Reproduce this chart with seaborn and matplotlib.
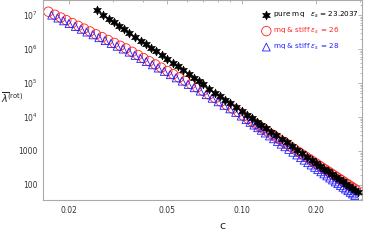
import matplotlib
matplotlib.use("Agg")
import matplotlib.pyplot as plt
import matplotlib.ticker as mticker
import seaborn as sns
import pandas as pd

# pure mq
c_pure = [0.026, 0.0275, 0.029, 0.0305, 0.032, 0.0335, 0.035, 0.037, 0.039, 0.041,
          0.043, 0.045, 0.0475, 0.05, 0.0525, 0.055, 0.058, 0.061, 0.064, 0.067,
          0.07, 0.074, 0.078, 0.082, 0.086, 0.09, 0.095, 0.10, 0.105, 0.11,
          0.115, 0.12, 0.126, 0.132, 0.138, 0.145, 0.152, 0.16, 0.168, 0.176,
          0.184, 0.192, 0.2, 0.208, 0.216, 0.224, 0.232, 0.24, 0.248, 0.256,
          0.264, 0.272, 0.28, 0.288, 0.295]
lam_pure = [1.36e7, 1.02e7, 7.82e6, 6.06e6, 4.75e6, 3.77e6, 3.02e6, 2.28e6, 1.75e6, 1.36e6,
            1.07e6, 8.47e5, 6.44e5, 4.97e5, 3.88e5, 3.07e5, 2.35e5, 1.82e5, 1.43e5, 1.13e5,
            9.06e4, 6.84e4, 5.24e4, 4.07e4, 3.20e4, 2.54e4, 1.93e4, 1.49e4, 1.16e4, 9.20e3,
            7.34e3, 5.92e3, 4.62e3, 3.66e3, 2.92e3, 2.27e3, 1.79e3, 1.38e3, 1.08e3, 853,
            681, 549, 447, 366, 303, 252, 211, 177, 150, 128,
            110, 94.2, 81.3, 70.6, 62.5]

# mq & stiff, eps_s = 26
c_26 = [0.0165, 0.0175, 0.0185, 0.0195, 0.0206, 0.0218, 0.023, 0.0243, 0.0257, 0.0272,
        0.0288, 0.0305, 0.0322, 0.034, 0.036, 0.038, 0.040, 0.0423, 0.0447, 0.0472,
        0.050, 0.0528, 0.0558, 0.059, 0.0624, 0.066, 0.0698, 0.0738, 0.078, 0.0825,
        0.087, 0.092, 0.097, 0.102, 0.106, 0.11, 0.114, 0.118, 0.122, 0.127,
        0.132, 0.137, 0.142, 0.147, 0.152, 0.158, 0.164, 0.17, 0.176, 0.182,
        0.188, 0.194, 0.2, 0.206, 0.212, 0.218, 0.224, 0.23, 0.236, 0.242,
        0.248, 0.254, 0.26, 0.266, 0.272, 0.278, 0.284, 0.29]
lam_26 = [1.25e7, 1.02e7, 8.43e6, 7.03e6, 5.81e6, 4.78e6, 3.97e6, 3.28e6, 2.71e6, 2.23e6,
          1.84e6, 1.51e6, 1.25e6, 1.04e6, 8.26e5, 6.67e5, 5.44e5, 4.36e5, 3.51e5, 2.83e5,
          2.25e5, 1.81e5, 1.45e5, 1.16e5, 9.28e4, 7.43e4, 5.86e4, 4.59e4, 3.61e4, 2.83e4,
          2.24e4, 1.76e4, 1.40e4, 1.07e4, 8.90e3, 7.46e3, 6.29e3, 5.34e3, 4.55e3, 3.76e3,
          3.12e3, 2.62e3, 2.21e3, 1.87e3, 1.60e3, 1.33e3, 1.11e3, 935, 792, 675,
          578, 498, 431, 374, 326, 285, 251, 221, 195, 173,
          154, 138, 123, 110, 99.2, 89.5, 80.8, 73.1]

# mq & stiff, eps_s = 28
c_28 = [0.0170, 0.0180, 0.0190, 0.0200, 0.0212, 0.0224, 0.0236, 0.0250, 0.0264, 0.0280,
        0.0296, 0.0313, 0.0331, 0.0350, 0.0370, 0.0390, 0.0411, 0.0435, 0.0459, 0.0486,
        0.0514, 0.0543, 0.0574, 0.0607, 0.0642, 0.0679, 0.0718, 0.0759, 0.0802, 0.0847,
        0.0895, 0.0945, 0.0995, 0.104, 0.108, 0.112, 0.116, 0.120, 0.1245, 0.1295,
        0.1345, 0.1395, 0.1445, 0.1495, 0.155, 0.161, 0.167, 0.173, 0.179, 0.185,
        0.191, 0.197, 0.203, 0.209, 0.215, 0.221, 0.227, 0.233, 0.239, 0.245,
        0.251, 0.257, 0.263, 0.269, 0.275, 0.281, 0.287]
lam_28 = [9.86e6, 8.09e6, 6.71e6, 5.57e6, 4.59e6, 3.79e6, 3.14e6, 2.60e6, 2.14e6, 1.76e6,
          1.45e6, 1.20e6, 9.92e5, 8.05e5, 6.46e5, 5.25e5, 4.25e5, 3.41e5, 2.74e5, 2.19e5,
          1.75e5, 1.41e5, 1.13e5, 9.05e4, 7.24e4, 5.75e4, 4.52e4, 3.55e4, 2.79e4, 2.20e4,
          1.73e4, 1.36e4, 1.06e4, 8.40e3, 6.94e3, 5.77e3, 4.83e3, 4.06e3, 3.37e3, 2.76e3,
          2.28e3, 1.89e3, 1.58e3, 1.33e3, 1.11e3, 916, 761, 636, 535, 452,
          385, 329, 282, 244, 211, 184, 160, 140, 123, 109,
          96.3, 85.4, 76.0, 67.8, 60.6, 54.3, 48.8]

x_ticks = [0.02, 0.05, 0.10, 0.20]
x_ticklabels = ["0.02", "0.05", "0.10", "0.20"]
y_ticks = [100, 1000, 1e4, 1e5, 1e6, 1e7]
y_ticklabels = ["100", "1000", "$10^4$", "$10^5$", "$10^6$", "$10^7$"]

labels = ["pure mq   $\\varepsilon_s$ = 23.2037",
          "mq & stiff $\\varepsilon_s$ = 26",
          "mq & stiff $\\varepsilon_s$ = 28"]
colors = ["black", "#ff2020", "#2020ff"]

sns.set_style("white")
plt.rcParams["font.family"] = ["DejaVu Sans"]

fig = plt.figure(figsize=(3.66, 2.46), dpi=100)
ax = fig.add_axes([43 / 366, 1 - 200 / 246, 319 / 366, 200 / 246])

df_pure = pd.DataFrame({"c": c_pure, "lam": lam_pure})
df_26 = pd.DataFrame({"c": c_26, "lam": lam_26})
df_28 = pd.DataFrame({"c": c_28, "lam": lam_28})

sns.scatterplot(data=df_26, x="c", y="lam", ax=ax, marker="o", s=46,
                facecolors="none", edgecolor=colors[1], linewidth=0.6,
                label=labels[1], zorder=2)
sns.scatterplot(data=df_28, x="c", y="lam", ax=ax, marker="^", s=32,
                facecolors="none", edgecolor=colors[2], linewidth=0.6,
                label=labels[2], zorder=3)
sns.scatterplot(data=df_pure, x="c", y="lam", ax=ax, marker=(6, 1, 0), s=42,
                color=colors[0], edgecolor=colors[0], linewidth=0.4,
                label=labels[0], zorder=4)

ax.set_xscale("log")
ax.set_yscale("log")
ax.set_xlim(0.01569, 0.307)
ax.set_ylim(36.2, 2.76e7)

ax.xaxis.set_major_locator(mticker.FixedLocator(x_ticks))
ax.xaxis.set_major_formatter(mticker.FixedFormatter(x_ticklabels))
ax.xaxis.set_minor_locator(mticker.LogLocator(base=10, subs=range(1, 10), numticks=20))
ax.xaxis.set_minor_formatter(mticker.NullFormatter())
ax.yaxis.set_major_locator(mticker.FixedLocator(y_ticks))
ax.yaxis.set_major_formatter(mticker.FixedFormatter(y_ticklabels))
ax.yaxis.set_minor_locator(mticker.LogLocator(base=10, subs=range(2, 10), numticks=20))
ax.yaxis.set_minor_formatter(mticker.NullFormatter())

ax.tick_params(which="both", direction="in", top=True, right=True,
               colors="#999999", labelcolor="#333333", labelsize=5.5, width=0.5)
ax.tick_params(which="major", length=3, pad=4)
ax.tick_params(which="minor", length=1.5)
for sp in ax.spines.values():
    sp.set_color("#aaaaaa")
    sp.set_linewidth(0.8)

ax.set_xlabel("")
ax.set_ylabel("")
fig.text(222 / 366, 1 - 226 / 246, "c", fontsize=8, ha="center", va="center", color="#222222")
fig.text(0.002, 1 - 98 / 246, r"$\overline{\lambda}^{(\mathrm{rot})}$", fontsize=7,
         ha="left", va="center", color="#222222")

handles, hl = ax.get_legend_handles_labels()
order = [hl.index(l) for l in labels]
leg = ax.legend([handles[i] for i in order], [hl[i] for i in order],
                loc="upper left", bbox_to_anchor=(262 / 366, 1 - 10 / 246),
                bbox_transform=fig.transFigure, frameon=False, fontsize=5.2,
                handletextpad=0.3, handlelength=1.2, labelspacing=0.8,
                borderaxespad=0, borderpad=0)
for t, col in zip(leg.get_texts(), colors):
    t.set_color(col)

fig.savefig("out.png", dpi=100)
